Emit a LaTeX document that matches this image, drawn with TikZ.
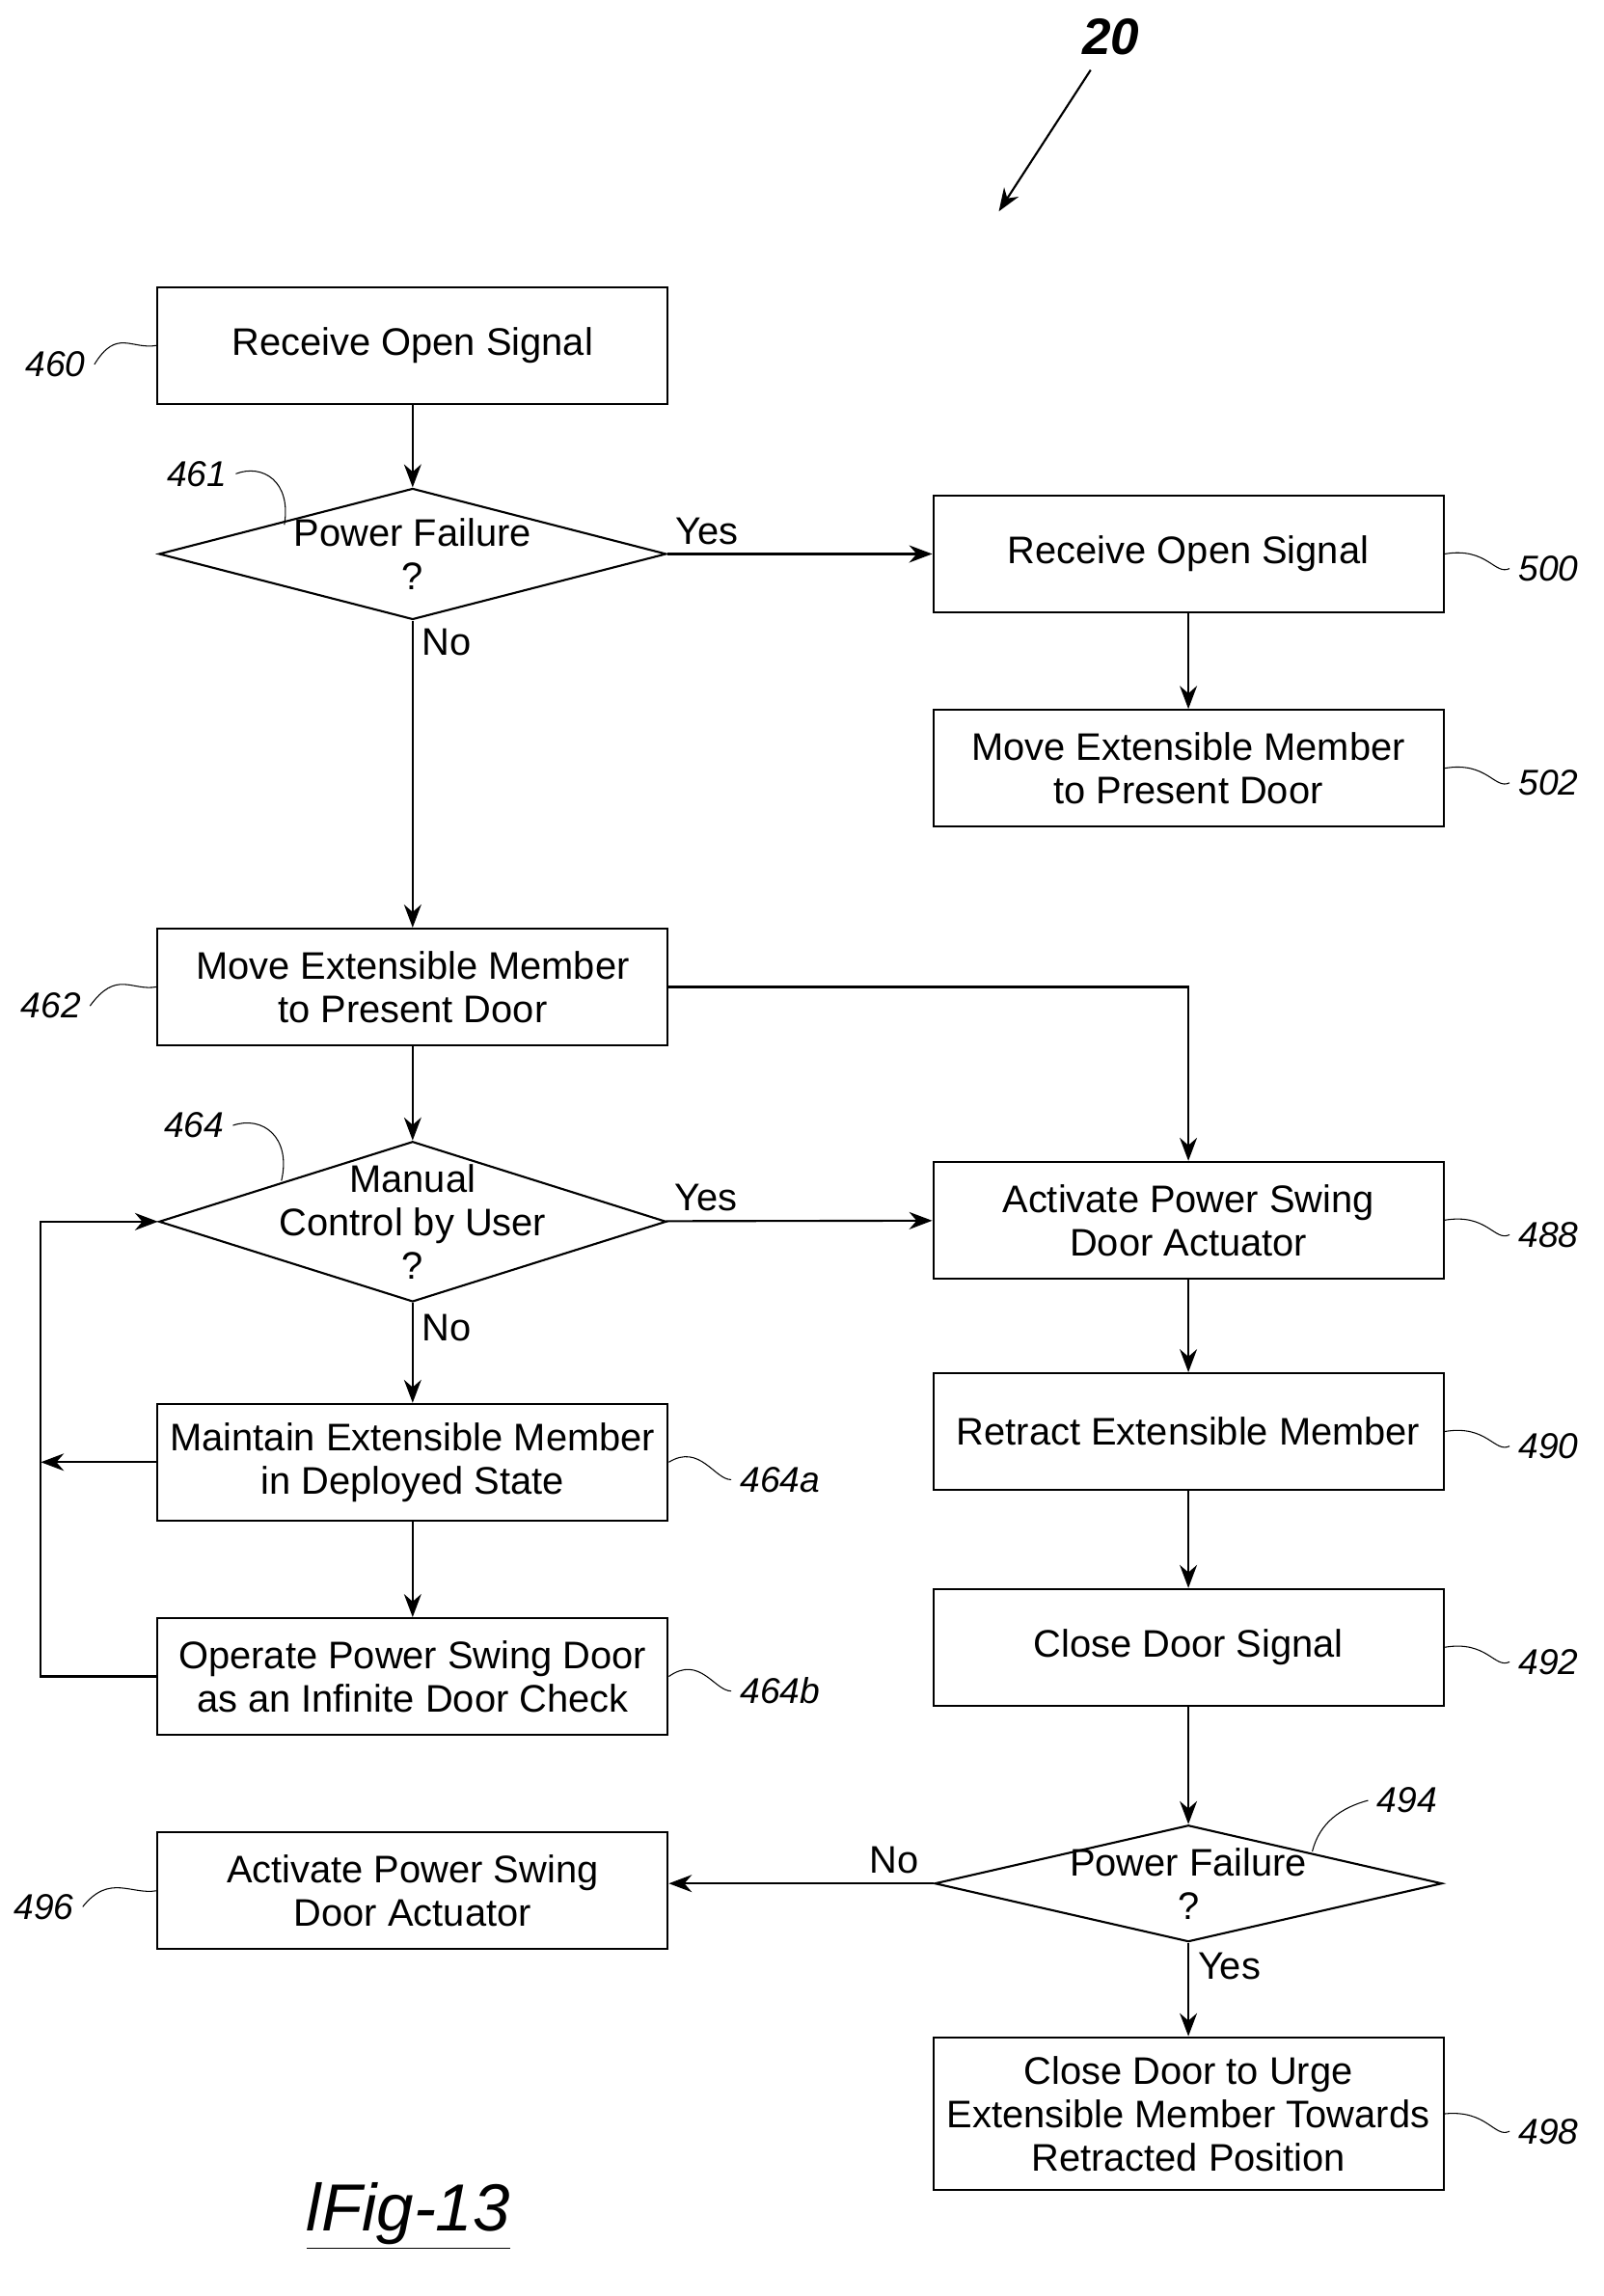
\documentclass[tikz,border=0pt]{standalone}
\usepackage{fontspec}
\setmainfont{Liberation Sans}
\usetikzlibrary{shapes.geometric,arrows.meta}
\begin{document}
\begin{tikzpicture}[x=0.02cm,y=-0.02cm,>={Stealth[length=9pt]},
    box/.style={draw,thick,minimum width=7cm,minimum height=1.6cm,align=center,font=\fontsize{15}{17}\selectfont},
    dia/.style={draw,thick,diamond,minimum width=6.96cm,inner sep=0pt},
    txt/.style={align=center,font=\fontsize{15}{17}\selectfont},
    lbl/.style={font=\itshape\fontsize{14}{16}\selectfont},
    yn/.style={font=\fontsize{15}{17}\selectfont}]
\useasboundingbox (0,0) rectangle (1100,1575);
\begin{scope}[every node/.style={box}]
    \node (B460) at (283,237) {Receive Open Signal};
    \node (B500) at (815,380) {Receive Open Signal};
    \node (B502) at (815,527) {Move Extensible Member\\to Present Door};
    \node (B462) at (283,677) {Move Extensible Member\\to Present Door};
    \node (B488) at (815,837) {Activate Power Swing\\Door Actuator};
    \node (B464a) at (283,1003) {Maintain Extensible Member\\in Deployed State};
    \node (B490) at (815,982) {Retract Extensible Member};
    \node (B464b) at (283,1150) {Operate Power Swing Door\\as an Infinite Door Check};
    \node (B492) at (815,1130) {Close Door Signal};
    \node (B496) at (283,1297) {Activate Power Swing\\Door Actuator};
    \node[minimum height=2.1cm] (B498) at (815,1450) {Close Door to Urge\\Extensible Member Towards\\Retracted Position};
\end{scope}
\begin{scope}[every node/.style={dia}]
    \node[minimum height=1.8cm] (D461) at (283,380) {};
    \node[minimum height=2.2cm] (D464) at (283,838) {};
    \node[minimum height=1.6cm] (D494) at (815,1292) {};
\end{scope}
\node[txt] (T461) at (D461) {Power Failure\\?};
\node[txt] (T464) at (D464) {Manual\\Control by User\\?};
\node[txt] (T494) at (D494) {Power Failure\\?};
\coordinate (L1) at (28,1003);
\coordinate (L2) at (28,1150);
\coordinate (L3) at (28,838);
\coordinate (R1) at (815,677);
\begin{scope}[thick]
    % main flow
    \draw[->] (B460) -- (D461);
    \draw[->] (D461) -- node[yn,pos=.15,above] {Yes} (B500);
    \draw[->] (B500) -- (B502);
    \draw[->] (D461) -- node[yn,pos=0.07,right] {No} (B462);
    \draw[->] (B462) -- (D464);
    \draw[->] (B462.east) -- (R1) -- (B488);
    \draw[->] (D464) -- node[yn,pos=.15,above] {Yes} (B488);
    \draw[->] (D464) -- node[yn,pos=0.25,right] {No} (B464a);
    \draw[->] (B464a) -- (B464b);
    \draw[->] (B464a) -- (L1);
    \draw[->] (B464b.west) -- (L2) -- (L3) -- (D464);
    \draw[->] (B488) -- (B490);
    \draw[->] (B490) -- (B492);
    \draw[->] (B492) -- (D494);
    \draw[->] (D494) -- node[yn,pos=0.15,above] {No} (B496.east |- D494);
    \draw[->] (D494) -- node[yn,pos=0.25,right] {Yes} (B498);
\end{scope}
% reference numbers
\begin{scope}[thin]
    \node[lbl] (N460) at (38,250) {460};
    \draw (N460.east) .. controls (80,225) and (90,240) .. (B460.west);
    \node[lbl] (N461) at (135,325) {461};
    \draw (N461.east) .. controls (180,318) and (200,330) .. (195,360);
    \node[lbl] (N500) at (1062,390) {500};
    \draw (B500.east) .. controls (1020,375) and (1025,395) .. (N500.west);
    \node[lbl] (N502) at (1062,537) {502};
    \draw (B502.east) .. controls (1020,522) and (1025,542) .. (N502.west);
    \node[lbl] (N462) at (35,690) {462};
    \draw (N462.east) .. controls (80,665) and (90,680) .. (B462.west);
    \node[lbl] (N464) at (133,772) {464};
    \draw (N464.east) .. controls (180,765) and (200,780) .. (193,810);
    \node[lbl] (N488) at (1062,847) {488};
    \draw (B488.east) .. controls (1020,832) and (1025,852) .. (N488.west);
    \node[lbl] (N464a) at (535,1015) {464a};
    \draw (B464a.east) .. controls (480,990) and (490,1015) .. (N464a.west);
    \node[lbl] (N490) at (1062,992) {490};
    \draw (B490.east) .. controls (1020,977) and (1025,997) .. (N490.west);
    \node[lbl] (N464b) at (535,1160) {464b};
    \draw (B464b.east) .. controls (480,1135) and (490,1160) .. (N464b.west);
    \node[lbl] (N492) at (1062,1140) {492};
    \draw (B492.east) .. controls (1020,1125) and (1025,1145) .. (N492.west);
    \node[lbl] (N494) at (965,1235) {494};
    \draw (N494.west) .. controls (920,1240) and (905,1250) .. (900,1270);
    \node[lbl] (N496) at (30,1308) {496};
    \draw (N496.east) .. controls (75,1285) and (90,1300) .. (B496.west);
    \node[lbl] (N498) at (1062,1462) {498};
    \draw (B498.east) .. controls (1020,1447) and (1025,1467) .. (N498.west);
\end{scope}
\node[font=\bfseries\itshape\fontsize{20}{22}\selectfont] (N20) at (762,25) {20};
\coordinate (A20) at (685,145);
\draw[thick,->] (748,48) -- (A20);
\node[font=\itshape\fontsize{26}{30}\selectfont] (FIG) at (280,1520) {\underline{lFig-13}};
\end{tikzpicture}
\end{document}
